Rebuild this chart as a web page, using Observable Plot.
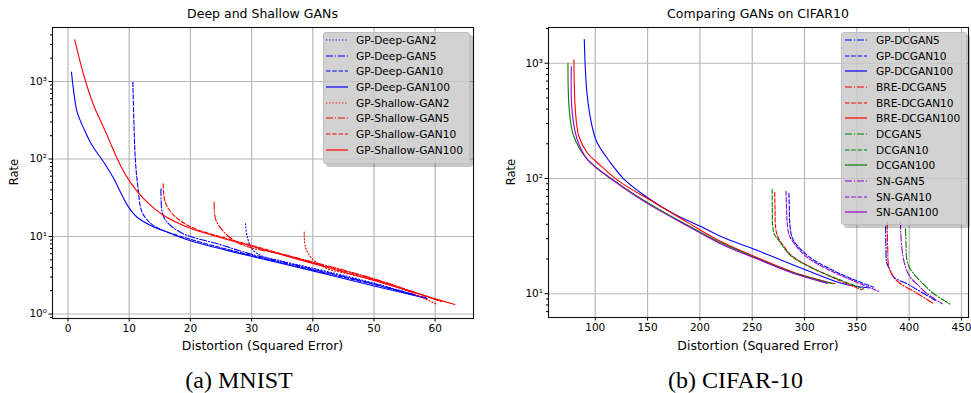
<!DOCTYPE html>
<html><head><meta charset="utf-8">
<script src="https://cdn.jsdelivr.net/npm/d3@7"></script>
<script src="https://cdn.jsdelivr.net/npm/@observablehq/plot@0.6"></script>
<style>
body{margin:0;background:#fff;}
#wrap{position:relative;width:971px;height:393px;overflow:hidden;font-family:"DejaVu Sans",sans-serif;color:#000;}
.abs{position:absolute;white-space:nowrap;}
.c{transform:translate(-50%,-50%);}
.rot{transform:translate(-50%,-50%) rotate(-90deg);}
.legend{position:absolute;background:rgba(200,200,200,0.82);border:1px solid rgba(180,180,180,0.6);border-radius:3px;box-shadow:3px 3px 0 rgba(0,0,0,0.22);}
.cap{font-family:"Liberation Serif","Times New Roman",serif;font-size:24px;}
svg.plot{position:absolute;top:0;}
</style></head>
<body><div id="wrap"></div>
<script>
// ---------- Left panel: MNIST (Distortion, Rate) ----------
const gpDeep2   = [[29.0,14.6],[29.3,9.8],[30.1,6.9],[31.5,5.7],[35,4.8],[40,3.9],[50,2.5],[59,1.55]];
const gpDeep5   = [[15.2,41.2],[15.4,20.6],[16.2,15.3],[18.9,10.8],[24.4,8.05],[30,5.9],[40,3.8],[50,2.45],[58.5,1.62]];
const gpDeep10  = [[10.6,980],[11.0,100],[11.4,45.5],[12.1,20.6],[13.5,14.8],[15.1,12.4],[20,9.2],[30,5.7],[40,3.7],[50,2.4],[58.5,1.6]];
const gpDeep100 = [[0.57,1320],[0.95,728],[1.5,402],[2.6,245],[3.95,149],[5.85,91],[7.5,55.5],[8.85,33.8],[9.9,23.9],[11.3,17.7],[13.5,13.9],[16.2,11.4],[20,8.8],[30,5.55],[40,3.6],[50,2.3],[58,1.63]];
const gpShallow2   = [[38.6,11.4],[38.8,7.3],[39.9,5.15],[42.4,3.83],[45,3.4],[50,2.75],[55,2.05],[60.3,1.33]];
const gpShallow5   = [[23.9,27.7],[24.1,16.9],[25.5,11.4],[27.6,8.4],[29.8,7.2],[35,5.9],[40,4.7],[50,2.85],[61,1.45]];
const gpShallow10  = [[15.55,47.9],[15.9,27.7],[17.3,18.7],[20,13.4],[25,9.9],[30,7.7],[40,4.6],[50,2.8],[61,1.45]];
const gpShallow100 = [[1.1,3450],[2.6,1195],[4.2,490],[5.3,314],[6.4,201],[8.6,82],[10.2,50],[12.4,30.6],[15.65,18.7],[20,12.8],[30,7.5],[40,4.5],[50,2.7],[60,1.57],[63.2,1.33]];

// ---------- Right panel: CIFAR-10 ----------
const gpDcgan5   = [[377.5,38.5],[377.8,25],[378.5,18.5],[382,15.9],[385.3,13.9],[398,12.2],[404.4,11.3],[425,8.75]];
const gpDcgan10  = [[285.1,74.5],[285.4,55],[286,40],[288,31],[292,27],[304,21],[325,16.3],[345,13.5],[366,11.4]];
const gpDcgan100 = [[89.5,1607],[92,560],[96.8,288],[101.6,206],[114.3,138],[127.1,99.4],[149.4,68.8],[174.9,49.4],[200.4,38.5],[219.5,31.5],[254.6,23.8],[302,16],[337,12.2],[362,11.2]];
const breDcgan5   = [[379,41.8],[379.5,25],[380.6,17],[385,14],[391.7,12.2],[405,10.4],[423.5,8.2]];
const breDcgan10  = [[271.5,76],[271.8,55],[272.3,38],[274,32],[278,27.5],[288,21.3],[306,17],[331,13.3],[355,10.8]];
const breDcgan100 = [[79.6,1072],[80.9,402],[84.1,236],[92,169],[104.8,130],[123.9,93],[155.8,62.3],[187.7,41.8],[219.5,28.5],[255,20.5],[290,15.3],[329,12.2]];
const dcgan5   = [[396.5,36.6],[397,27],[397.4,20.7],[400,17],[404.4,14.9],[412,12.5],[423.5,10],[439.5,8.07]];
const dcgan10  = [[269,80.4],[269.2,55],[269.5,39],[271,33],[275.4,29],[286.5,21.5],[305.6,17],[331.1,13.5],[356.6,11.0]];
const dcgan100 = [[73.9,1000],[75.1,400],[79.2,236],[92,148],[123.9,88],[155.8,57.5],[190,38.5],[219.5,27.8],[255,20.2],[290,15.1],[327,12.2]];
const snGan5   = [[391.7,41.8],[392.5,28],[394.3,20.7],[397,16.5],[401.2,13.9],[408,12],[417.2,10],[431.5,8.2]];
const snGan10  = [[282.3,77.6],[282.8,55],[283.3,43],[285,33],[288,29],[302.4,20.7],[324.7,15.9],[346,13],[370.9,10.5]];
const snGan100 = [[77.1,935],[77.7,400],[82.5,221],[92,148],[123.9,87],[155.8,56.4],[190,38],[219.5,27.2],[255,20],[290,15],[322,12.3]];

// ---------- names, ticks ----------
const leftNames  = ["GP-Deep-GAN2","GP-Deep-GAN5","GP-Deep-GAN10","GP-Deep-GAN100","GP-Shallow-GAN2","GP-Shallow-GAN5","GP-Shallow-GAN10","GP-Shallow-GAN100"];
const rightNames = ["GP-DCGAN5","GP-DCGAN10","GP-DCGAN100","BRE-DCGAN5","BRE-DCGAN10","BRE-DCGAN100","DCGAN5","DCGAN10","DCGAN100","SN-GAN5","SN-GAN10","SN-GAN100"];
const leftXTicks  = [0,10,20,30,40,50,60];
const rightXTicks = [100,150,200,250,300,350,400,450];
const leftYMajor  = [1,10,100,1000];
const rightYMajor = [10,100,1000];

// styles
const DOT = "1.2,2", DASHDOT = "7,1.9,1.2,1.9", DASH = "4.4,1.9", SOLID = null;
const BLUE = "#0000ff", RED = "#ff0000", GREEN = "#008000", PURPLE = "#9400d3";

const leftSeries = [gpDeep2,gpDeep5,gpDeep10,gpDeep100,gpShallow2,gpShallow5,gpShallow10,gpShallow100].map((data,i) => ({
  name: leftNames[i], data, color: i < 4 ? BLUE : RED, dash: [DOT,DASHDOT,DASH,SOLID][i % 4]
}));
const rightSeries = [gpDcgan5,gpDcgan10,gpDcgan100,breDcgan5,breDcgan10,breDcgan100,dcgan5,dcgan10,dcgan100,snGan5,snGan10,snGan100].map((data,i) => ({
  name: rightNames[i], data, color: [BLUE,RED,GREEN,PURPLE][Math.floor(i/3)], dash: [DASHDOT,DASH,SOLID][i % 3]
}));

const sup = {"0":"⁰","1":"¹","2":"²","3":"³","4":"⁴","-":"⁻"};
const logFmt = d => "10" + String(Math.round(Math.log10(d))).split("").map(c => sup[c]).join("");
function minorTicks(lo, hi) {
  const out = [];
  for (let e = -1; e <= 4; e++) for (let m = 2; m <= 9; m++) { const v = m * 10 ** e; if (v >= lo && v <= hi) out.push(v); }
  return out;
}

function panel({series, xDomain, yDomain, xTicks, yMajor, width, marginLeft, marginRight, marginBottom}) {
  const marks = [
    Plot.gridX(xTicks, {stroke: "#b8b8b8", strokeOpacity: 1, strokeWidth: 1.2}),
    Plot.gridY(yMajor, {stroke: "#b8b8b8", strokeOpacity: 1, strokeWidth: 1.2}),
    ...series.map(s => Plot.line(s.data, {x: d => d[0], y: d => d[1], stroke: s.color, strokeWidth: 1.1, strokeDasharray: s.dash, curve: "catmull-rom"})),
    Plot.frame({stroke: "#111", strokeWidth: 1.1}),
    Plot.axisX(xTicks, {tickSize: 3.5, tickPadding: 3, label: null, fontSize: 10.5}),
    Plot.axisY(yMajor, {tickSize: 3.5, tickPadding: 2, tickFormat: logFmt, label: null, fontSize: 10.5}),
    Plot.axisY(minorTicks(yDomain[0], yDomain[1]), {tickSize: 2, tickFormat: () => "", label: null})
  ];
  const svg = Plot.plot({
    width, height: 393, marginLeft, marginRight, marginTop: 27, marginBottom,
    x: {domain: xDomain}, y: {type: "log", domain: yDomain},
    style: {fontFamily: "DejaVu Sans", fontSize: "10.5px", color: "#000", background: "transparent", overflow: "visible"},
    marks
  });
  svg.classList.add("plot");
  return svg;
}

const wrap = document.getElementById("wrap");
const L = panel({series: leftSeries, xDomain: [-2.53, 66.26], yDomain: [0.875, 4977], xTicks: leftXTicks, yMajor: leftYMajor,
  width: 485, marginLeft: 52, marginRight: 12, marginBottom: 75});
L.style.left = "0px";
wrap.appendChild(L);
const R = panel({series: rightSeries, xDomain: [55.3, 456.7], yDomain: [6.22, 2042], xTicks: rightXTicks, yMajor: rightYMajor,
  width: 486, marginLeft: 63, marginRight: 3, marginBottom: 76});
R.style.left = "485px";
wrap.appendChild(R);

function addText(txt, x, y, cls, style) {
  const d = document.createElement("div");
  d.className = "abs " + cls;
  d.textContent = txt;
  d.style.left = x + "px"; d.style.top = y + "px";
  Object.assign(d.style, style || {});
  wrap.appendChild(d);
}
addText("Deep and Shallow GANs", 262.5, 13, "c", {fontSize: "12.5px"});
addText("Comparing GANs on CIFAR10", 758, 13, "c", {fontSize: "12.5px"});
addText("Distortion (Squared Error)", 262.5, 345, "c", {fontSize: "12.5px"});
addText("Distortion (Squared Error)", 758, 345, "c", {fontSize: "12.5px"});
addText("Rate", 14, 172, "rot", {fontSize: "11.5px"});
addText("Rate", 511, 172, "rot", {fontSize: "11.5px"});
addText("(a) MNIST", 239, 380, "c cap");
addText("(b) CIFAR-10", 735.5, 380, "c cap");

function legend(series, left, top, w, h, lineX, textX) {
  const box = document.createElement("div");
  box.className = "legend";
  Object.assign(box.style, {left: left + "px", top: top + "px", width: w + "px", height: h + "px"});
  wrap.appendChild(box);
  series.forEach((s, i) => {
    const cy = 40 + 15.68 * i;
    const ns = "http://www.w3.org/2000/svg";
    const svg = document.createElementNS(ns, "svg");
    svg.setAttribute("width", 24); svg.setAttribute("height", 6);
    Object.assign(svg.style, {position: "absolute", left: lineX + "px", top: (cy - 3) + "px"});
    const ln = document.createElementNS(ns, "line");
    ln.setAttribute("x1", 0); ln.setAttribute("x2", 22); ln.setAttribute("y1", 3); ln.setAttribute("y2", 3);
    ln.setAttribute("stroke", s.color); ln.setAttribute("stroke-width", 1.2);
    if (s.dash) ln.setAttribute("stroke-dasharray", s.dash);
    svg.appendChild(ln);
    wrap.appendChild(svg);
    addText(s.name, textX, cy, "", {fontSize: "10.6px", transform: "translateY(-50%)"});
  });
}
legend(leftSeries, 323, 32, 145, 130, 326, 356);
legend(rightSeries, 841, 32, 124, 191, 845, 876);
</script></body></html>
